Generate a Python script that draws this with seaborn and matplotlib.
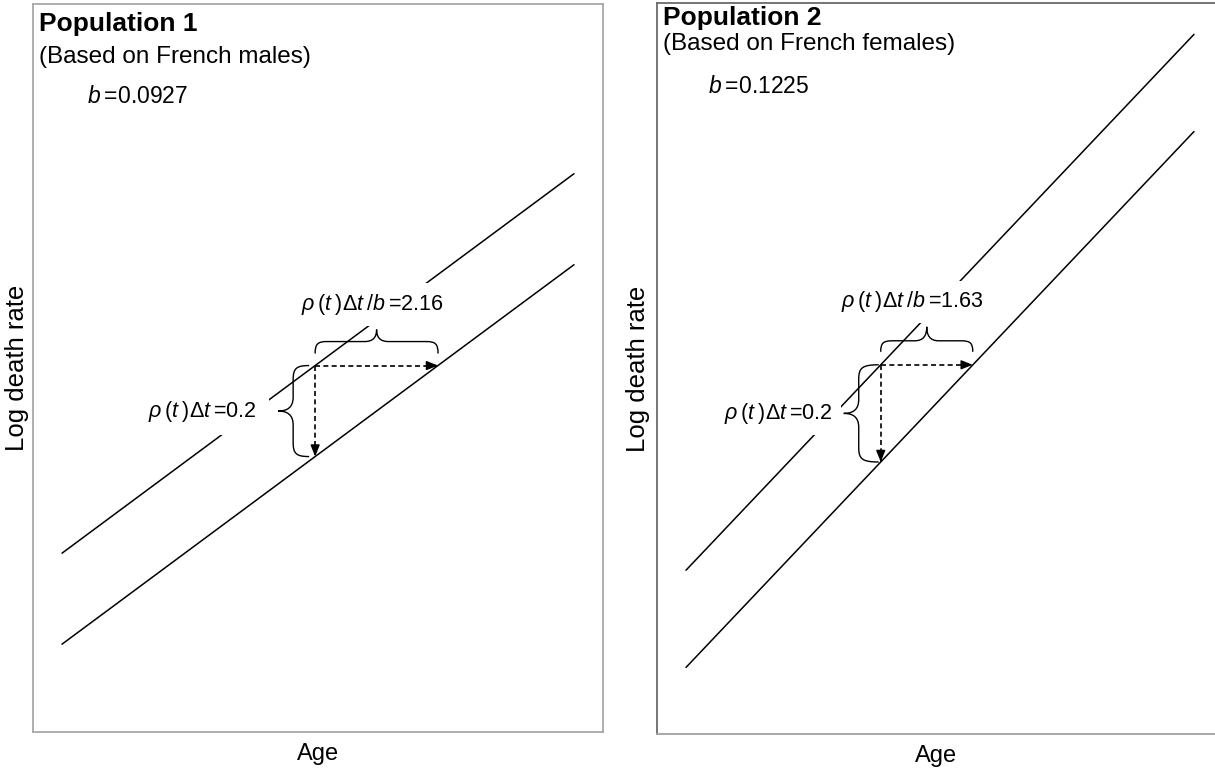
import numpy as np
import pandas as pd
import seaborn as sns
import matplotlib
matplotlib.use("Agg")
import matplotlib.pyplot as plt
from matplotlib.path import Path
from matplotlib.patches import PathPatch

# schematic Gompertz lines: log death rate vs age, before / after a shift
ages = [60, 69]
pop1_upper = [-4.0, -3.166]
pop1_lower = [-4.2, -3.366]
pop2_upper = [-4.0, -2.8975]
pop2_lower = [-4.2, -3.0975]

b_values = [0.0927, 0.1225]
rho_dt = 0.2
age_shift = [2.16, 1.63]
arrow_age = [64.45, 63.45]

titles = ["Population 1", "Population 2"]
subtitles = ["(Based on French males)", "(Based on French females)"]

sns.set_style("white")
plt.rcParams["font.family"] = ["Liberation Sans", "DejaVu Sans"]
plt.rcParams["text.color"] = "black"
plt.rcParams["axes.labelcolor"] = "black"
plt.rcParams["mathtext.fontset"] = "custom"
plt.rcParams["mathtext.rm"] = "Liberation Sans"
plt.rcParams["mathtext.it"] = "Liberation Sans:italic"
plt.rcParams["mathtext.bf"] = "Liberation Sans:bold"

W, H = 1215, 771
fig = plt.figure(figsize=(W / 100, H / 100), dpi=100)


def add_ax(x0, y0, x1, y1):
    return fig.add_axes([x0 / W, 1 - y1 / H, (x1 - x0) / W, (y1 - y0) / H])


def brace(ax, p0, p1, gap, h, t, r):
    a = ax.transData.transform(p0)
    c = ax.transData.transform(p1)
    d = c - a
    L = np.hypot(*d)
    u = d / L
    n = np.array([-u[1], u[0]])
    m = L / 2
    local = [(0, 0),
             (0, .8 * h), (.2 * r, h), (r, h),
             (m - r, h),
             (m - .25 * r, h), (m, h + .4 * t), (m, h + t),
             (m, h + .4 * t), (m + .25 * r, h), (m + r, h),
             (L - r, h),
             (L - .2 * r, h), (L, .8 * h), (L, 0)]
    codes = [Path.MOVETO] + [Path.CURVE4] * 3 + [Path.LINETO] + [Path.CURVE4] * 6 \
        + [Path.LINETO] + [Path.CURVE4] * 3
    pts = np.array([a + s * u + (v + gap) * n for s, v in local])
    pts = ax.transData.inverted().transform(pts)
    ax.add_patch(PathPatch(Path(pts, codes), fc="none", ec="black", lw=1.0, zorder=4))


def arrow(ax, start, end, off):
    ax.plot([start[0], end[0]], [start[1], end[1]], color="black", lw=1.2,
            ls=(0, (3, 2)), zorder=3)
    ax.annotate("", xy=end, xytext=off, textcoords="offset pixels",
                arrowprops=dict(arrowstyle="-|>,head_length=0.7,head_width=0.28",
                                color="black", lw=1, shrinkA=0, shrinkB=0),
                zorder=3)


panels = [
    dict(box=(33, 4, 603, 732), xlim=(59.49, 69.51), ylim=(-4.393, -2.793),
         upper=pop1_upper, lower=pop1_lower, spine="#a8a8a8", spine_dark="#a8a8a8",
         title_off=(6, -27), sub_off=(6, -59), b_off=(54, -99),
         low_lab=(-58, 0), top_lab=(-4, 61), vgap=6, vh=16, vt=15, hgap=12, hh=12, ht=12,
         ylpad=3, low_pad=0.55),
    dict(box=(657, 3, 1216, 734), xlim=(59.486, 69.39), ylim=(-4.337, -2.833),
         upper=pop2_upper, lower=pop2_lower, spine="#a0a0a0", spine_dark="#6a6a6a",
         title_off=(6, -22), sub_off=(6, -47), b_off=(51, -90),
         low_lab=(-48, 0), top_lab=(-14, 63), vgap=2, vh=20, vt=15, hgap=13, hh=11, ht=14,
         ylpad=5, low_pad=0.4),
]

for i, p in enumerate(panels):
    ax = add_ax(*p["box"])
    df = pd.DataFrame({"age": ages * 2,
                       "log_rate": p["upper"] + p["lower"],
                       "period": ["t"] * 2 + ["t+dt"] * 2})
    sns.lineplot(data=df, x="age", y="log_rate", units="period", estimator=None,
                 color="black", lw=1.1, ax=ax, zorder=1)
    ax.set_xlim(*p["xlim"])
    ax.set_ylim(*p["ylim"])
    ax.set_xticks([])
    ax.set_yticks([])
    ax.set_xlabel("Age", fontsize=17, labelpad=8)
    ax.set_ylabel("Log death rate", fontsize=18.5, labelpad=p["ylpad"])
    for side in ["bottom", "right"]:
        ax.spines[side].set_color(p["spine"])
    for side in ["top", "left"]:
        ax.spines[side].set_color(p["spine_dark"])
    for s in ax.spines.values():
        s.set_linewidth(1.3)

    ax.annotate(titles[i], xy=(0, 1), xycoords="axes fraction", xytext=p["title_off"],
                textcoords="offset pixels", fontsize=19, fontweight="bold", va="baseline")
    ax.annotate(subtitles[i], xy=(0, 1), xycoords="axes fraction", xytext=p["sub_off"],
                textcoords="offset pixels", fontsize=17.5, va="baseline")
    ax.annotate(r"$b\:$=" + f"{b_values[i]:.4f}", xy=(0, 1), xycoords="axes fraction",
                xytext=p["b_off"], textcoords="offset pixels", fontsize=16.5, va="baseline")

    a = arrow_age[i]
    u = np.interp(a, ages, p["upper"])
    v_end = (a, u - rho_dt)
    h_end = (a + age_shift[i], u)
    arrow(ax, (a, u), v_end, (0, 9))
    arrow(ax, (a, u), h_end, (-9, 0))

    brace(ax, v_end, (a, u), p["vgap"], p["vh"], p["vt"], 14)
    brace(ax, (a, u), h_end, p["hgap"], p["hh"], p["ht"], 12)

    ax.annotate(r"$\rho\:(t\:)\Delta t\:$=0.2", xy=(a, u - rho_dt / 2),
                xytext=p["low_lab"], textcoords="offset pixels", fontsize=15.5,
                ha="right", va="center", zorder=2,
                bbox=dict(boxstyle=f"square,pad={p['low_pad']}", fc="white", ec="none"))
    ax.annotate(r"$\rho\:(t\:)\Delta t\:/b\:$=" + f"{age_shift[i]:.2f}",
                xy=(a + age_shift[i] / 2, u), xytext=p["top_lab"],
                textcoords="offset pixels", fontsize=15.5, ha="center", va="center",
                zorder=2, bbox=dict(boxstyle="square,pad=0.4", fc="white", ec="none"))

fig.savefig("out.png", dpi=100)
